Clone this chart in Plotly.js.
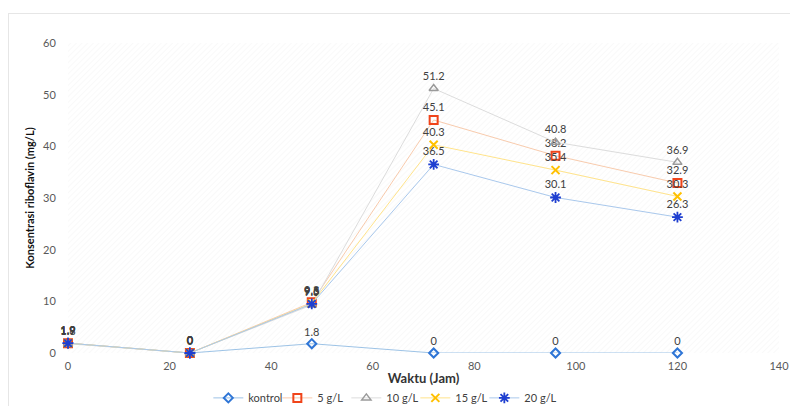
<!DOCTYPE html>
<html>
<head>
<meta charset="utf-8">
<script src="https://cdn.plot.ly/plotly-3.0.1.min.js"></script>
<style>
  html, body { margin: 0; padding: 0; background: #fff; }
  #frame { position: absolute; left: 8px; top: 13px; width: 800px; height: 420px; border: 1px solid #e6e6e6; box-sizing: border-box; }
  #chart { position: absolute; left: 0; top: 0; width: 790px; height: 406px; }
</style>
</head>
<body>
<div id="frame"></div>
<div id="chart"></div>
<script>
// Sampling times (hours)
const waktu = [0, 24, 48, 72, 96, 120];

// Riboflavin concentration (mg/L) per treatment
const kontrol = [1.9, 0, 1.8, 0, 0, 0];
const g5  = [1.9, 0, 9.8, 45.1, 38.2, 32.9];
const g10 = [1.8, 0, 9.3, 51.2, 40.8, 36.9];
const g15 = [1.9, 0, 9.6, 40.3, 35.4, 30.3];
const g20 = [1.9, 0, 9.5, 36.5, 30.1, 26.3];

const seriesNames = ['kontrol', '5 g/L', '10 g/L', '15 g/L', '20 g/L'];

const labelFont = { family: 'Lato, "Open Sans", sans-serif', size: 11, color: '#404040' };

function series(name, y, lineColor, markerColor, symbol, size, width) {
  return {
    x: waktu, y: y, name: name,
    type: 'scatter', mode: 'lines+markers+text',
    line: { color: lineColor, width: 1 },
    marker: { symbol: symbol, size: size, color: markerColor, line: { color: markerColor, width: width } },
    text: y.map(v => String(v)),
    textposition: 'top center',
    textfont: labelFont,
    cliponaxis: false
  };
}

const traces = [
  series(seriesNames[0], kontrol, '#9dc3e6', '#2e75d6', 'diamond-open', 7, 2),
  series(seriesNames[1], g5,  '#f8cbad', '#f0441a', 'square-open', 8, 2),
  series(seriesNames[2], g10, '#dcdcdc', '#9a9a9a', 'triangle-up-open', 8, 1.5),
  series(seriesNames[3], g15, '#ffe38a', '#ffc000', 'x-thin-open', 8, 2),
  series(seriesNames[4], g20, '#a9c8ec', '#1f3fd0', 'asterisk-open', 9, 1.8)
];

const tickFont = { family: 'Lato, "Open Sans", sans-serif', size: 11, color: '#595959' };

const layout = {
  width: 790, height: 406,
  margin: { l: 68, r: 11, t: 43, b: 53, autoexpand: false },
  paper_bgcolor: 'rgba(0,0,0,0)',
  plot_bgcolor: '#ffffff',
  showlegend: true,
  legend: {
    orientation: 'h', x: 0.44, xanchor: 'center',
    y: -0.098, yanchor: 'top',
    entrywidth: 24,
    font: { family: 'Lato, "Open Sans", sans-serif', size: 11, color: '#404040' },
    tracegroupgap: 0
  },
  xaxis: {
    range: [0, 140], dtick: 20, tick0: 0, automargin: false,
    showgrid: false, zeroline: false, showline: false,
    ticks: 'outside', ticklen: 3, tickcolor: 'rgba(0,0,0,0)', tickfont: tickFont,
    title: { text: '<b>Waktu (Jam)</b>', font: { family: 'Lato, "Open Sans", sans-serif', size: 13, color: '#333333' }, standoff: 2 }
  },
  yaxis: {
    range: [0, 60], dtick: 10, tick0: 0, automargin: false,
    showgrid: false, zeroline: false, showline: false,
    ticks: 'outside', ticklen: 9, tickcolor: 'rgba(0,0,0,0)', tickfont: tickFont,
    title: { text: '<b>Konsentrasi riboflavin (mg/L)</b>', font: { family: 'Lato, "Open Sans", sans-serif', size: 11, color: '#111111' }, standoff: 6 }
  }
};

Plotly.newPlot('chart', traces, layout, { displayModeBar: false, staticPlot: true }).then(gd => {
  const svg = gd.querySelector('svg.main-svg');
  const ns = 'http://www.w3.org/2000/svg';

  // Let the last legend label run past the entry width
  gd.querySelectorAll('.legend .scrollbox').forEach(el => el.removeAttribute('clip-path'));

  // Fill the plotting area with a fine diagonal hatch
  let defs = svg.querySelector('defs');
  if (!defs) { defs = document.createElementNS(ns, 'defs'); svg.insertBefore(defs, svg.firstChild); }
  const pat = document.createElementNS(ns, 'pattern');
  pat.setAttribute('id', 'hatchBg');
  pat.setAttribute('patternUnits', 'userSpaceOnUse');
  pat.setAttribute('width', '4');
  pat.setAttribute('height', '4');
  pat.setAttribute('patternTransform', 'rotate(45)');
  const r = document.createElementNS(ns, 'rect');
  r.setAttribute('width', '4'); r.setAttribute('height', '4'); r.setAttribute('fill', '#ffffff');
  const ln = document.createElementNS(ns, 'line');
  ln.setAttribute('x1', '0'); ln.setAttribute('y1', '0'); ln.setAttribute('x2', '0'); ln.setAttribute('y2', '4');
  ln.setAttribute('stroke', '#f3f3f3'); ln.setAttribute('stroke-width', '1');
  pat.appendChild(r); pat.appendChild(ln);
  defs.appendChild(pat);
  const bg = svg.querySelector('.bglayer rect.bg');
  if (bg) bg.style.fill = 'url(#hatchBg)';
});
</script>
</body>
</html>
